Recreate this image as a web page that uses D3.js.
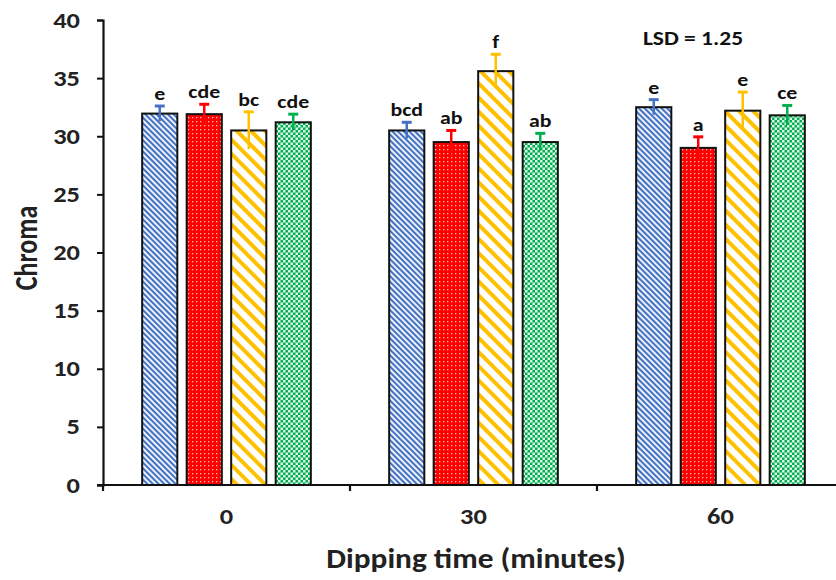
<!DOCTYPE html>
<html>
<head>
<meta charset="utf-8">
<script src="https://cdn.jsdelivr.net/npm/d3@7"></script>
<style>
  body { margin: 0; background: #fff; }
  text { font-family: Carlito, "Open Sans", sans-serif; }
</style>
</head>
<body>
<svg id="chart"></svg>
<script>
// data
const times = ["0", "30", "60"];
const treatments = ["t1", "t2", "t3", "t4"];
const chroma = [
  [31.95, 31.9, 30.5, 31.2],
  [30.5, 29.5, 35.6, 29.5],
  [32.5, 29.0, 32.2, 31.8]
];
const errs = [
  [0.65, 0.85, 1.6, 0.7],
  [0.7, 1.0, 1.45, 0.75],
  [0.65, 0.95, 1.6, 0.85]
];
const letters = [
  ["e", "cde", "bc", "cde"],
  ["bcd", "ab", "f", "ab"],
  ["e", "a", "e", "ce"]
];
const yTicks = [0, 5, 10, 15, 20, 25, 30, 35, 40];
const colors = ["#4472C4", "#FF0000", "#FFC000", "#00B050"];

const width = 836, height = 580;
const svg = d3.select("#chart").attr("width", width).attr("height", height);

// patterns
const defs = svg.append("defs");
// blue: fine diagonal stripes
let p = defs.append("pattern").attr("id", "pat0").attr("patternUnits", "userSpaceOnUse")
  .attr("width", 4).attr("height", 4).attr("patternTransform", "rotate(-45)");
p.append("rect").attr("width", 4).attr("height", 4).attr("fill", "#fff");
p.append("rect").attr("width", 2.2).attr("height", 4).attr("fill", colors[0]);
// red: red with small white dots
p = defs.append("pattern").attr("id", "pat1").attr("patternUnits", "userSpaceOnUse")
  .attr("width", 4).attr("height", 4);
p.append("rect").attr("width", 4).attr("height", 4).attr("fill", colors[1]);
p.append("rect").attr("x", 1).attr("y", 1).attr("width", 1.3).attr("height", 1.3).attr("fill", "#fbb");
// yellow: wide diagonal stripes
p = defs.append("pattern").attr("id", "pat2").attr("patternUnits", "userSpaceOnUse")
  .attr("width", 10).attr("height", 10).attr("patternTransform", "rotate(-45)");
p.append("rect").attr("width", 10).attr("height", 10).attr("fill", "#fff");
p.append("rect").attr("width", 4).attr("height", 10).attr("fill", colors[2]);
// green: small checkerboard
p = defs.append("pattern").attr("id", "pat3").attr("patternUnits", "userSpaceOnUse")
  .attr("width", 5).attr("height", 5);
p.append("rect").attr("width", 5).attr("height", 5).attr("fill", colors[3]);
p.append("rect").attr("width", 2.5).attr("height", 2.5).attr("fill", "#dff5e7");
p.append("rect").attr("x", 2.5).attr("y", 2.5).attr("width", 2.5).attr("height", 2.5).attr("fill", "#dff5e7");

const x0 = d3.scaleBand().domain(times).range([103, 844]);
const x1 = d3.scaleBand().domain(treatments).range([0, x0.bandwidth()])
  .paddingInner(0.21).paddingOuter(0.88);
const y = d3.scaleLinear().domain([0, 40]).range([485, 20]);

// bars
const groups = svg.append("g").selectAll("g")
  .data(times).join("g")
  .attr("transform", d => "translate(" + x0(d) + ",0)");

groups.each(function(t, gi) {
  const g = d3.select(this);
  treatments.forEach((tr, i) => {
    const v = chroma[gi][i], e = errs[gi][i];
    const bx = x1(tr), bw = x1.bandwidth(), cx = bx + bw / 2;
    g.append("rect")
      .attr("x", bx).attr("y", y(v))
      .attr("width", bw).attr("height", y(0) - y(v))
      .attr("fill", "url(#pat" + i + ")")
      .attr("stroke", "#111").attr("stroke-width", 2);
    g.append("line")
      .attr("x1", cx).attr("x2", cx).attr("y1", y(v - e)).attr("y2", y(v + e))
      .attr("stroke", colors[i]).attr("stroke-width", 2.5);
    g.append("line")
      .attr("x1", cx - 5).attr("x2", cx + 5).attr("y1", y(v + e)).attr("y2", y(v + e))
      .attr("stroke", colors[i]).attr("stroke-width", 3);
    g.append("text")
      .attr("transform", "translate(" + cx + "," + (y(v + e) - 6) + ") scale(1.15,1)")
      .attr("text-anchor", "middle")
      .attr("font-size", 19).attr("font-weight", "bold").attr("fill", "#111")
      .text(letters[gi][i]);
  });
});

// y axis
const yAxis = svg.append("g").attr("transform", "translate(103,0)")
  .call(d3.axisLeft(y).tickValues(yTicks).tickSize(6).tickFormat(""));
yAxis.select(".domain").attr("stroke", "#111").attr("stroke-width", 2.2);
yAxis.selectAll(".tick line").attr("stroke", "#111").attr("stroke-width", 2);
svg.append("g").selectAll("text").data(yTicks).join("text")
  .attr("transform", d => "translate(80," + (y(d) + 7.5) + ") scale(1.2,1)")
  .attr("text-anchor", "end")
  .attr("font-size", 22).attr("font-weight", "bold").attr("fill", "#222")
  .text(d => d);

// x axis
svg.append("line").attr("x1", 97).attr("x2", 836).attr("y1", y(0)).attr("y2", y(0))
  .attr("stroke", "#111").attr("stroke-width", 2.2);
svg.append("g").selectAll("line").data(times).join("line")
  .attr("x1", d => x0(d)).attr("x2", d => x0(d))
  .attr("y1", y(0)).attr("y2", y(0) + 6)
  .attr("stroke", "#111").attr("stroke-width", 2.2);
svg.append("g").selectAll("text").data(times).join("text")
  .attr("transform", d => "translate(" + (x0(d) + x0.bandwidth() / 2) + ",524) scale(1.2,1)")
  .attr("text-anchor", "middle")
  .attr("font-size", 22).attr("font-weight", "bold").attr("fill", "#222")
  .text(d => d);

// titles
svg.append("text")
  .attr("transform", "translate(37,248) scale(1.2,1) rotate(-90)")
  .attr("text-anchor", "middle")
  .attr("font-size", 26).attr("font-weight", "bold").attr("fill", "#222")
  .text("Chroma");
svg.append("text")
  .attr("transform", "translate(476,568) scale(1.12,1)")
  .attr("text-anchor", "middle")
  .attr("font-size", 28).attr("font-weight", "bold").attr("fill", "#222")
  .text("Dipping time (minutes)");
svg.append("text")
  .attr("transform", "translate(693,45) scale(1.12,1)")
  .attr("text-anchor", "middle")
  .attr("font-size", 21).attr("font-weight", "bold").attr("fill", "#111")
  .text("LSD = 1.25");
</script>
</body>
</html>
